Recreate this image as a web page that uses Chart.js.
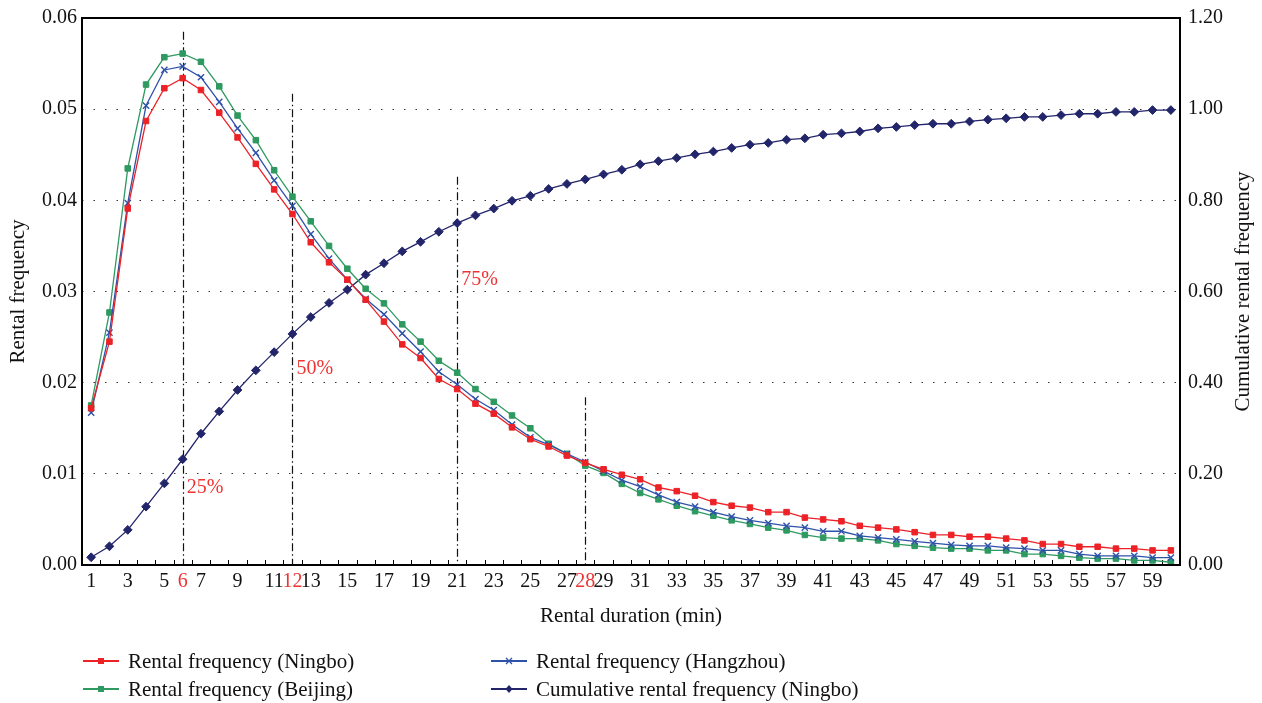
<!DOCTYPE html>
<html>
<head>
<meta charset="utf-8">
<script src="https://cdn.jsdelivr.net/npm/chart.js@4.4.0/dist/chart.umd.min.js"></script>
<style>
  html, body { margin: 0; padding: 0; background: #ffffff; }
  #wrap { width: 1262px; height: 703px; position: relative; }
</style>
</head>
<body>
<div id="wrap"><canvas id="c" width="1262" height="703"></canvas></div>
<script>
// ---------------- data ----------------
const durations = ['1','2','3','4','5','6','7','8','9','10','11','12','13','14','15','16','17','18','19','20',
  '21','22','23','24','25','26','27','28','29','30','31','32','33','34','35','36','37','38','39','40',
  '41','42','43','44','45','46','47','48','49','50','51','52','53','54','55','56','57','58','59','60'];

const ningbo = [0.0172,0.0245,0.0391,0.0487,0.0523,0.0534,0.0521,0.0496,0.0469,0.0440,
  0.0412,0.0385,0.0354,0.0332,0.0313,0.0291,0.0267,0.0242,0.0227,0.0204,
  0.0193,0.0177,0.0166,0.0151,0.0138,0.0130,0.0120,0.0112,0.0105,0.0099,
  0.0094,0.0085,0.0081,0.0076,0.0069,0.0065,0.0063,0.0058,0.0058,0.0052,
  0.0050,0.0048,0.0043,0.0041,0.0039,0.0036,0.0033,0.0033,0.0031,0.0031,
  0.0029,0.0027,0.0023,0.0023,0.0020,0.0020,0.0018,0.0018,0.0016,0.0016];

const hangzhou = [0.0167,0.0255,0.0397,0.0504,0.0543,0.0547,0.0535,0.0508,0.0479,0.0452,
  0.0422,0.0394,0.0363,0.0336,0.0313,0.0292,0.0275,0.0254,0.0234,0.0212,
  0.0198,0.0182,0.0170,0.0154,0.0140,0.0132,0.0122,0.0113,0.0103,0.0093,
  0.0086,0.0077,0.0069,0.0064,0.0058,0.0053,0.0049,0.0046,0.0043,0.0041,
  0.0037,0.0037,0.0032,0.0030,0.0028,0.0026,0.0024,0.0022,0.0021,0.0021,
  0.0019,0.0018,0.0016,0.0016,0.0012,0.0010,0.0010,0.0010,0.0008,0.0008];

const beijing = [0.0175,0.0277,0.0435,0.0527,0.0557,0.0561,0.0552,0.0525,0.0493,0.0466,
  0.0433,0.0404,0.0377,0.0350,0.0325,0.0303,0.0287,0.0264,0.0245,0.0224,
  0.0211,0.0193,0.0179,0.0164,0.0150,0.0133,0.0122,0.0109,0.0101,0.0089,
  0.0079,0.0072,0.0065,0.0059,0.0054,0.0049,0.0045,0.0041,0.0038,0.0033,
  0.0030,0.0029,0.0029,0.0027,0.0023,0.0021,0.0019,0.0018,0.0018,0.0016,
  0.0016,0.0012,0.0012,0.0010,0.0008,0.0007,0.0007,0.0005,0.0005,0.0003];

const cumulativeNingbo = [0.017,0.041,0.077,0.128,0.179,0.232,0.288,0.337,0.384,0.427,
  0.467,0.507,0.544,0.575,0.604,0.637,0.662,0.688,0.709,0.731,
  0.750,0.767,0.782,0.799,0.810,0.825,0.836,0.846,0.857,0.867,
  0.879,0.886,0.893,0.901,0.907,0.915,0.922,0.926,0.933,0.936,
  0.944,0.947,0.951,0.958,0.961,0.965,0.968,0.968,0.973,0.977,
  0.980,0.983,0.983,0.987,0.990,0.990,0.994,0.994,0.998,0.998];

// tick labels shown on the x axis, and the ones highlighted in red
const shownTicks = ['1','3','5','6','7','9','11','12','13','15','17','19','21','23','25','27','28','29',
  '31','33','35','37','39','41','43','45','47','49','51','53','55','57','59'];
const redTicks = ['6','12','28'];

// quartile marker lines (duration, top of the line in rental-frequency units)
const markerDurations = ['6','12','21','28'];
const markerTops = [0.0585, 0.0517, 0.0426, 0.0184];
// quartile annotations
const quartileLabels = ['25%','50%','75%'];
const quartileDurations = ['6','12','21'];
const quartileValues = [0.0085, 0.0215, 0.0313];

const leftTickValues = [0, 0.01, 0.02, 0.03, 0.04, 0.05, 0.06];
const rightTickValues = [0, 0.2, 0.4, 0.6, 0.8, 1.0, 1.2];

// ---------------- style ----------------
const FONT = "'Liberation Serif', 'DejaVu Serif', serif";
const RED = '#ec2227';
const GREEN = '#2e9960';
const BLUE = '#2f52a9';
const NAVY = '#23256b';
const LABEL_RED = '#ee3333';
const TICK_SIZE = 20;
const TITLE_SIZE = 21;

const framePlugin = {
  id: 'frame',
  beforeDatasetsDraw(chart) {
    const { ctx, chartArea: a, scales } = chart;
    const x = scales.x, y = scales.y;
    ctx.save();
    // inward tick marks on x axis at category boundaries
    ctx.strokeStyle = '#000';
    ctx.lineWidth = 1;
    for (let i = 0; i < durations.length - 1; i++) {
      const px = Math.round((x.getPixelForValue(i) + x.getPixelForValue(i + 1)) / 2) + 0.5;
      ctx.beginPath();
      ctx.moveTo(px, a.bottom);
      ctx.lineTo(px, a.bottom - 5);
      ctx.stroke();
    }
    // quartile dash-dot lines
    ctx.setLineDash([8, 3, 1.5, 3]);
    ctx.lineWidth = 1.2;
    ctx.strokeStyle = '#111';
    markerDurations.forEach((d, i) => {
      const px = Math.round(x.getPixelForValue(durations.indexOf(d))) + 0.5;
      ctx.beginPath();
      ctx.moveTo(px, y.getPixelForValue(markerTops[i]));
      ctx.lineTo(px, a.bottom);
      ctx.stroke();
    });
    ctx.setLineDash([]);
    // quartile labels
    ctx.fillStyle = LABEL_RED;
    ctx.font = TICK_SIZE + "px " + FONT;
    ctx.textAlign = 'left';
    ctx.textBaseline = 'middle';
    quartileLabels.forEach((t, i) => {
      const px = x.getPixelForValue(durations.indexOf(quartileDurations[i]));
      ctx.fillText(t, px + 4, y.getPixelForValue(quartileValues[i]));
    });
    ctx.restore();
  },
  afterDraw(chart) {
    const { ctx, chartArea: a } = chart;
    ctx.save();
    ctx.strokeStyle = '#000';
    ctx.lineWidth = 2;
    ctx.strokeRect(a.left, a.top, a.right - a.left, a.bottom - a.top);
    // right axis title, reading bottom-to-top
    ctx.fillStyle = '#111';
    ctx.font = TITLE_SIZE + "px " + FONT;
    ctx.textAlign = 'center';
    ctx.textBaseline = 'middle';
    ctx.translate(1243, (a.top + a.bottom) / 2);
    ctx.rotate(-Math.PI / 2);
    ctx.fillText('Cumulative rental frequency', 0, 0);
    ctx.restore();

    // legend: two columns
    const items = chart.data.datasets;
    const order = [0, 1, 2, 3];
    const cols = [83, 491];
    const rows = [661, 689];
    ctx.save();
    order.forEach((di, k) => {
      const ds = items[di];
      const lx = cols[k % 2], ly = rows[Math.floor(k / 2)];
      ctx.strokeStyle = ds.borderColor;
      ctx.lineWidth = 2;
      ctx.beginPath();
      ctx.moveTo(lx, ly);
      ctx.lineTo(lx + 36, ly);
      ctx.stroke();
      const cx = lx + 18;
      ctx.fillStyle = ds.borderColor;
      ctx.strokeStyle = ds.borderColor;
      ctx.lineWidth = 1.3;
      if (ds.pointStyle === 'rect') {
        ctx.fillRect(cx - 3, ly - 3, 6, 6);
      } else if (ds.pointStyle === 'crossRot') {
        ctx.beginPath();
        ctx.moveTo(cx - 3, ly - 3); ctx.lineTo(cx + 3, ly + 3);
        ctx.moveTo(cx + 3, ly - 3); ctx.lineTo(cx - 3, ly + 3);
        ctx.stroke();
      } else {
        ctx.beginPath();
        ctx.moveTo(cx, ly - 4); ctx.lineTo(cx + 3.5, ly); ctx.lineTo(cx, ly + 4); ctx.lineTo(cx - 3.5, ly);
        ctx.closePath(); ctx.fill();
      }
      ctx.fillStyle = '#111';
      ctx.font = TITLE_SIZE + "px " + FONT;
      ctx.textAlign = 'left';
      ctx.textBaseline = 'middle';
      ctx.fillText(ds.label, lx + 45, ly + 1);
    });
    ctx.restore();
  }
};

const lineDs = (label, data, color, style, radius, axis) => ({
  label, data, yAxisID: axis,
  borderColor: color, backgroundColor: color,
  borderWidth: 1.3, pointStyle: style, pointRadius: radius, pointHoverRadius: radius,
  pointBorderColor: color, pointBackgroundColor: color, pointBorderWidth: style === 'crossRot' ? 1.4 : 1,
  tension: 0, fill: false
});

new Chart(document.getElementById('c'), {
  type: 'line',
  data: {
    labels: durations,
    datasets: [
      lineDs('Rental frequency (Ningbo)', ningbo, RED, 'rect', 3.9, 'y'),
      lineDs('Rental frequency (Hangzhou)', hangzhou, BLUE, 'crossRot', 4.4, 'y'),
      lineDs('Rental frequency (Beijing)', beijing, GREEN, 'rect', 3.9, 'y'),
      lineDs('Cumulative rental frequency (Ningbo)', cumulativeNingbo, NAVY, 'rectRot', 4.4, 'y1')
    ]
  },
  options: {
    responsive: false,
    animation: false,
    devicePixelRatio: 1,
    layout: { padding: { top: 3, bottom: 70, left: 0, right: 0 } },
    plugins: { legend: { display: false }, tooltip: { enabled: false } },
    scales: {
      x: {
        type: 'category',
        offset: true,
        grid: { display: false, drawTicks: false },
        border: { display: false },
        ticks: {
          autoSkip: false, maxRotation: 0, minRotation: 0, padding: 5,
          font: { family: FONT, size: TICK_SIZE },
          color: (c) => redTicks.includes(durations[c.index]) ? LABEL_RED : '#111',
          callback: (v, i) => shownTicks.includes(durations[i]) ? durations[i] : ''
        },
        title: { display: true, text: 'Rental duration (min)', font: { family: FONT, size: TITLE_SIZE }, color: '#111', padding: { top: 2, bottom: 4 } },
        afterFit: (s) => { s.height = 68; }
      },
      y: {
        position: 'left', min: 0, max: 0.06,
        afterBuildTicks: (s) => { s.ticks = leftTickValues.map(v => ({ value: v })); },
        ticks: { padding: 5, font: { family: FONT, size: TICK_SIZE, lineHeight: 1.0 }, color: '#111', callback: (v) => Number(v).toFixed(2) },
        grid: { color: '#333', lineWidth: 1, drawTicks: false },
        border: { display: false, dash: [1.5, 10] },
        title: { display: true, text: 'Rental frequency', font: { family: FONT, size: TITLE_SIZE }, color: '#111', padding: { top: 6, bottom: 0 } },
        afterFit: (s) => { s.width = 82; }
      },
      y1: {
        position: 'right', min: 0, max: 1.2,
        afterBuildTicks: (s) => { s.ticks = rightTickValues.map(v => ({ value: v })); },
        ticks: { padding: 8, font: { family: FONT, size: TICK_SIZE, lineHeight: 1.0 }, color: '#111', callback: (v) => Number(v).toFixed(2) },
        grid: { display: false, drawTicks: false },
        border: { display: false },
        afterFit: (s) => { s.width = 82; }
      }
    }
  },
  plugins: [framePlugin]
});
</script>
</body>
</html>
